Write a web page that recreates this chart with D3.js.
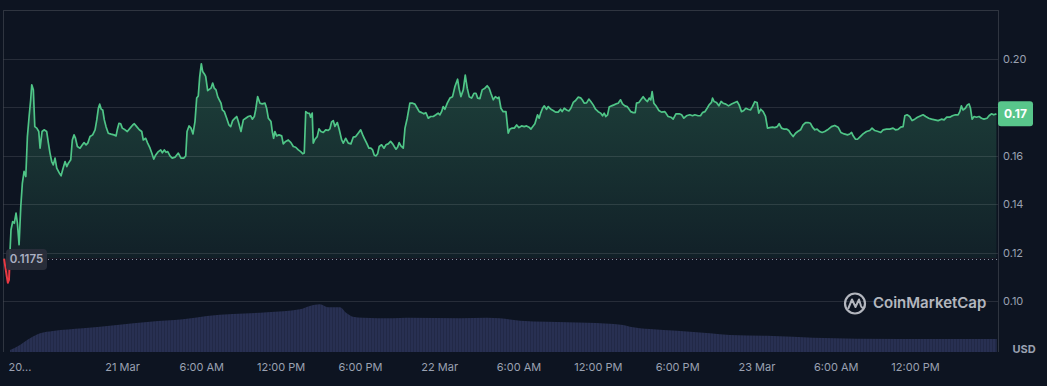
<!DOCTYPE html>
<html>
<head>
<meta charset="utf-8">
<script src="https://cdn.jsdelivr.net/npm/d3@7"></script>
<style>
  html, body { margin: 0; padding: 0; background: #0d1421; }
  svg { display: block; font-family: Inter, "Noto Sans", sans-serif; }
</style>
</head>
<body>
<div id="chart"></div>
<script>
const WIDTH = 1047;
const HEIGHT = 386;

// hours counted from 21 Mar 00:00, price in USD
const pricePoints = [
  [-8.93,0.1175],[-8.72,0.1101],[-8.64,0.1075],[-8.55,0.1087],[-8.47,0.1211],[-8.40,0.1294],[-8.27,0.1328],[-8.15,0.1321],[-8.02,0.1363],[-7.92,0.1323],
  [-7.79,0.1232],[-7.66,0.1390],[-7.54,0.1487],[-7.41,0.1535],[-7.28,0.1514],[-7.16,0.1679],[-7.03,0.1762],[-6.91,0.1831],[-6.83,0.1893],[-6.71,0.1872],
  [-6.60,0.1720],[-6.45,0.1714],[-6.30,0.1700],[-6.20,0.1631],[-6.05,0.1700],[-5.90,0.1707],[-5.70,0.1700],[-5.57,0.1652],[-5.45,0.1611],[-5.32,0.1576],
  [-5.20,0.1562],[-5.07,0.1590],[-4.94,0.1549],[-4.74,0.1528],[-4.61,0.1517],[-4.49,0.1542],[-4.31,0.1576],[-4.18,0.1555],[-4.06,0.1569],[-3.88,0.1583],
  [-3.76,0.1665],[-3.63,0.1686],[-3.53,0.1674],[-3.38,0.1638],[-3.18,0.1631],[-3.00,0.1645],[-2.87,0.1654],[-2.72,0.1645],[-2.59,0.1652],[-2.42,0.1679],
  [-2.22,0.1686],[-2.04,0.1707],[-1.91,0.1748],[-1.79,0.1796],[-1.69,0.1813],[-1.57,0.1792],[-1.46,0.1789],[-1.34,0.1748],[-1.21,0.1720],[-1.04,0.1693],
  [-0.83,0.1689],[-0.61,0.1686],[-0.45,0.1682],[-0.36,0.1707],[-0.23,0.1734],[-0.10,0.1732],[0.02,0.1714],[0.23,0.1707],[0.40,0.1700],[0.61,0.1714],
  [0.81,0.1727],[0.93,0.1732],[1.11,0.1720],[1.31,0.1707],[1.49,0.1700],[1.61,0.1665],[1.79,0.1672],[1.94,0.1652],[2.12,0.1631],[2.25,0.1611],
  [2.40,0.1586],[2.55,0.1603],[2.75,0.1617],[2.93,0.1624],[3.05,0.1612],[3.20,0.1624],[3.33,0.1614],[3.46,0.1617],[3.63,0.1599],[3.80,0.1590],
  [4.01,0.1594],[4.26,0.1611],[4.46,0.1590],[4.67,0.1590],[4.82,0.1599],[4.92,0.1700],[5.07,0.1723],[5.22,0.1714],[5.37,0.1690],[5.52,0.1741],
  [5.65,0.1838],[5.77,0.1847],[5.88,0.1927],[6.00,0.1980],[6.10,0.1948],[6.23,0.1938],[6.33,0.1928],[6.48,0.1869],[6.63,0.1875],[6.73,0.1879],
  [6.86,0.1900],[6.98,0.1879],[7.11,0.1872],[7.24,0.1844],[7.36,0.1831],[7.49,0.1817],[7.59,0.1789],[7.74,0.1782],[7.92,0.1755],[8.09,0.1727],
  [8.22,0.1720],[8.37,0.1745],[8.55,0.1755],[8.68,0.1762],[8.80,0.1741],[9.00,0.1700],[9.18,0.1748],[9.36,0.1755],[9.55,0.1762],[9.73,0.1765],
  [9.86,0.1751],[10.01,0.1762],[10.11,0.1789],[10.26,0.1844],[10.44,0.1817],[10.61,0.1814],[10.82,0.1817],[10.94,0.1796],[11.07,0.1755],[11.27,0.1741],
  [11.37,0.1700],[11.47,0.1672],[11.57,0.1700],[11.70,0.1682],[11.88,0.1686],[12.08,0.1682],[12.20,0.1649],[12.38,0.1659],[12.58,0.1665],[12.78,0.1654],
  [12.96,0.1638],[13.14,0.1635],[13.34,0.1624],[13.52,0.1617],[13.67,0.1608],[13.79,0.1611],[13.90,0.1782],[14.05,0.1776],[14.18,0.1775],[14.27,0.1759],
  [14.39,0.1776],[14.47,0.1652],[14.60,0.1668],[14.77,0.1679],[14.90,0.1711],[15.05,0.1700],[15.23,0.1696],[15.41,0.1707],[15.60,0.1705],[15.73,0.1711],
  [15.86,0.1740],[15.98,0.1745],[16.11,0.1721],[16.29,0.1737],[16.44,0.1707],[16.62,0.1665],[16.74,0.1652],[16.92,0.1672],[17.12,0.1652],[17.32,0.1649],
  [17.50,0.1677],[17.68,0.1679],[17.87,0.1693],[18.06,0.1707],[18.21,0.1686],[18.33,0.1672],[18.51,0.1652],[18.68,0.1631],[18.83,0.1631],[18.96,0.1624],
  [19.08,0.1603],[19.21,0.1599],[19.34,0.1608],[19.46,0.1638],[19.64,0.1645],[19.82,0.1631],[19.97,0.1645],[20.14,0.1649],[20.32,0.1659],[20.48,0.1649],
  [20.60,0.1638],[20.73,0.1627],[20.85,0.1635],[20.97,0.1654],[21.10,0.1641],[21.28,0.1631],[21.41,0.1714],[21.58,0.1755],[21.78,0.1817],[21.99,0.1817],
  [22.16,0.1813],[22.34,0.1796],[22.49,0.1782],[22.67,0.1778],[22.84,0.1773],[22.99,0.1778],[23.17,0.1755],[23.35,0.1762],[23.55,0.1762],[23.75,0.1769],
  [23.92,0.1776],[24.05,0.1769],[24.18,0.1782],[24.30,0.1803],[24.43,0.1792],[24.61,0.1817],[24.81,0.1838],[25.01,0.1844],[25.19,0.1886],[25.39,0.1916],
  [25.51,0.1875],[25.64,0.1844],[25.82,0.1872],[25.97,0.1933],[26.12,0.1879],[26.27,0.1844],[26.45,0.1838],[26.63,0.1858],[26.78,0.1858],[26.91,0.1838],
  [27.08,0.1836],[27.25,0.1872],[27.46,0.1879],[27.63,0.1889],[27.78,0.1879],[27.91,0.1858],[28.09,0.1831],[28.25,0.1844],[28.42,0.1837],[28.52,0.1842],
  [28.67,0.1796],[28.84,0.1782],[29.05,0.1782],[29.22,0.1693],[29.35,0.1710],[29.52,0.1714],[29.68,0.1714],[29.86,0.1727],[30.03,0.1716],[30.23,0.1723],
  [30.43,0.1720],[30.61,0.1723],[30.79,0.1718],[30.94,0.1710],[31.11,0.1723],[31.24,0.1732],[31.44,0.1769],[31.56,0.1755],[31.69,0.1778],[31.82,0.1796],
  [31.94,0.1806],[32.12,0.1792],[32.25,0.1803],[32.45,0.1792],[32.62,0.1787],[32.80,0.1780],[33.00,0.1780],[33.18,0.1792],[33.30,0.1782],[33.46,0.1796],
  [33.64,0.1789],[33.81,0.1785],[33.96,0.1796],[34.14,0.1820],[34.32,0.1828],[34.51,0.1842],[34.70,0.1839],[34.82,0.1831],[34.97,0.1817],[35.15,0.1818],
  [35.32,0.1834],[35.47,0.1824],[35.65,0.1810],[35.83,0.1792],[36.03,0.1782],[36.21,0.1776],[36.36,0.1765],[36.48,0.1776],[36.61,0.1762],[36.74,0.1769],
  [36.86,0.1801],[37.04,0.1806],[37.22,0.1810],[37.37,0.1814],[37.54,0.1817],[37.72,0.1831],[37.87,0.1814],[38.05,0.1806],[38.22,0.1803],[38.37,0.1792],
  [38.50,0.1782],[38.68,0.1778],[38.83,0.1778],[38.93,0.1817],[39.11,0.1820],[39.26,0.1831],[39.43,0.1844],[39.61,0.1831],[39.76,0.1824],[39.89,0.1838],
  [40.01,0.1831],[40.11,0.1865],[40.24,0.1817],[40.44,0.1803],[40.62,0.1787],[40.82,0.1780],[41.07,0.1782],[41.15,0.1776],[41.32,0.1762],[41.53,0.1759],
  [41.70,0.1751],[41.91,0.1773],[42.16,0.1773],[42.34,0.1769],[42.51,0.1755],[42.71,0.1765],[42.96,0.1769],[43.17,0.1765],[43.34,0.1769],[43.59,0.1765],
  [43.77,0.1765],[43.92,0.1778],[44.10,0.1782],[44.27,0.1796],[44.42,0.1810],[44.60,0.1820],[44.68,0.1838],[44.80,0.1824],[44.98,0.1820],[45.16,0.1806],
  [45.33,0.1824],[45.48,0.1817],[45.69,0.1813],[45.89,0.1806],[46.12,0.1814],[46.37,0.1820],[46.54,0.1824],[46.69,0.1810],[46.87,0.1782],[47.05,0.1787],
  [47.20,0.1796],[47.37,0.1792],[47.55,0.1789],[47.70,0.1803],[47.88,0.1823],[48.05,0.1820],[48.18,0.1776],[48.33,0.1792],[48.51,0.1782],[48.69,0.1762],
  [48.84,0.1714],[49.01,0.1716],[49.22,0.1718],[49.39,0.1716],[49.57,0.1720],[49.72,0.1732],[49.90,0.1714],[50.07,0.1710],[50.28,0.1710],[50.45,0.1704],
  [50.58,0.1693],[50.78,0.1679],[50.96,0.1693],[51.13,0.1700],[51.34,0.1707],[51.53,0.1727],[51.72,0.1737],[51.91,0.1737],[52.09,0.1734],[52.24,0.1718],
  [52.42,0.1707],[52.59,0.1710],[52.79,0.1700],[52.97,0.1696],[53.17,0.1700],[53.38,0.1707],[53.68,0.1720],[53.93,0.1725],[54.18,0.1718],[54.39,0.1696],
  [54.64,0.1690],[54.89,0.1686],[55.07,0.1690],[55.20,0.1696],[55.32,0.1682],[55.50,0.1668],[55.65,0.1668],[55.82,0.1677],[56.07,0.1690],[56.33,0.1700],
  [56.58,0.1704],[56.75,0.1714],[56.96,0.1704],[57.21,0.1700],[57.41,0.1696],[57.59,0.1707],[57.84,0.1710],[58.09,0.1710],[58.34,0.1714],[58.52,0.1707],
  [58.72,0.1709],[58.92,0.1718],[59.10,0.1720],[59.23,0.1765],[59.40,0.1769],[59.60,0.1762],[59.78,0.1745],[59.98,0.1751],[60.19,0.1759],[60.44,0.1765],
  [60.61,0.1769],[60.81,0.1762],[61.04,0.1755],[61.25,0.1751],[61.50,0.1748],[61.75,0.1745],[62.00,0.1751],[62.20,0.1748],[62.40,0.1759],[62.63,0.1759],
  [62.83,0.1765],[63.06,0.1769],[63.26,0.1769],[63.39,0.1782],[63.51,0.1806],[63.63,0.1789],[63.81,0.1796],[63.96,0.1810],[64.09,0.1814],[64.20,0.1796],
  [64.32,0.1751],[64.47,0.1762],[64.65,0.1759],[64.85,0.1762],[65.03,0.1755],[65.22,0.1751],[65.45,0.1755],[65.60,0.1765],[65.78,0.1773],[65.96,0.1769],
  [66.16,0.1773]
];

// volume, relative units, same hour offsets
const volumePoints = [
  [-8.47,2],[-7.72,7],[-6.96,13.7],[-6.20,18.7],[-5.22,21],[-2.95,23.7],[-0.38,27],[2.12,30.3],[4.61,32.7],[6.43,36],
  [8.40,38],[10.97,39.7],[13.46,42.7],[14.22,46],[14.98,47.7],[15.58,44.7],[16.49,44.7],[17.00,38.7],[17.47,35.3],[18.23,34.3],
  [20.50,33.7],[21.56,34.3],[25.57,33.7],[27.61,34.3],[28.59,33.7],[30.11,31.3],[32.15,30.3],[35.17,29.3],[37.90,27],[38.43,25.3],
  [39.94,23],[41.98,21.3],[44.48,18.7],[45.99,17],[49.24,16],[52.27,14.3],[58.85,13],[66.18,13]
];

const yTickValues = [0.10, 0.12, 0.14, 0.16, 0.18, 0.20];
const xTickHours = [-8.93, 0, 6, 12, 18, 24, 30, 36, 42, 48, 54, 60];
const openPrice = 0.1175;
const startHour = -8.93;
const endHour = 66.28;

const GREEN = '#4fc587';
const RED = '#ea3943';

const base = new Date(2024, 2, 21, 0, 0, 0);
function hourToDate(h) {
  return new Date(base.getTime() + h * 3600 * 1000);
}

const svg = d3.select('#chart')
  .append('svg')
  .attr('width', WIDTH)
  .attr('height', HEIGHT);

svg.append('rect').attr('width', WIDTH).attr('height', HEIGHT).attr('fill', '#0d1421');

const xScale = d3.scaleTime()
  .domain([hourToDate(startHour), hourToDate(endHour)])
  .range([4, 998]);

const yScale = d3.scaleLinear()
  .domain([0.0789, 0.2202])
  .range([352, 10]);

const volScale = d3.scaleLinear()
  .domain([0, 50])
  .range([352, 302]);

const yBase = yScale(openPrice);

const defs = svg.append('defs');

const grad = defs.append('linearGradient')
  .attr('id', 'greenFill')
  .attr('x1', 0).attr('x2', 0)
  .attr('gradientUnits', 'userSpaceOnUse')
  .attr('y1', yScale(0.20)).attr('y2', yBase);
grad.append('stop').attr('offset', 0).attr('stop-color', GREEN).attr('stop-opacity', 0.26);
grad.append('stop').attr('offset', 1).attr('stop-color', GREEN).attr('stop-opacity', 0.07);

defs.append('clipPath').attr('id', 'above')
  .append('rect').attr('x', 0).attr('y', 0).attr('width', WIDTH).attr('height', yBase);
defs.append('clipPath').attr('id', 'below')
  .append('rect').attr('x', 0).attr('y', yBase).attr('width', WIDTH).attr('height', HEIGHT - yBase);

// striped pattern for the volume bars
const pat = defs.append('pattern')
  .attr('id', 'volBars')
  .attr('patternUnits', 'userSpaceOnUse')
  .attr('width', 3).attr('height', 10);
pat.append('rect').attr('width', 3).attr('height', 10).attr('fill', '#283052');
pat.append('rect').attr('x', 2.4).attr('width', 0.6).attr('height', 10).attr('fill', '#1d2340');

// volume
const volArea = d3.area()
  .x(d => xScale(hourToDate(d[0])))
  .y0(352)
  .y1(d => volScale(d[1]))
  .curve(d3.curveMonotoneX);

svg.append('path')
  .datum(volumePoints)
  .attr('d', volArea)
  .attr('fill', 'url(#volBars)');

// price area
const priceArea = d3.area()
  .x(d => xScale(hourToDate(d[0])))
  .y0(yBase)
  .y1(d => yScale(d[1]));

svg.append('path')
  .datum(pricePoints)
  .attr('d', priceArea)
  .attr('fill', 'url(#greenFill)')
  .attr('clip-path', 'url(#above)');

svg.append('path')
  .datum(pricePoints)
  .attr('d', priceArea)
  .attr('fill', RED)
  .attr('fill-opacity', 0.2)
  .attr('clip-path', 'url(#below)');

// grid lines
svg.append('g')
  .selectAll('line')
  .data(yTickValues)
  .enter()
  .append('line')
  .attr('x1', 3.5)
  .attr('x2', 998)
  .attr('y1', d => Math.round(yScale(d)) + 0.5)
  .attr('y2', d => Math.round(yScale(d)) + 0.5)
  .attr('stroke', 'rgba(255,255,255,0.11)');

// frame
svg.append('path')
  .attr('d', 'M3.5,352 V10.5 H998.5 V352')
  .attr('fill', 'none')
  .attr('stroke', 'rgba(255,255,255,0.14)');

// dotted line at the opening price
svg.append('line')
  .attr('x1', 48)
  .attr('x2', 998)
  .attr('y1', Math.round(yBase) + 0.5)
  .attr('y2', Math.round(yBase) + 0.5)
  .attr('stroke', '#8a91a3')
  .attr('stroke-dasharray', '1,3');

// price line
const priceLine = d3.line()
  .x(d => xScale(hourToDate(d[0])))
  .y(d => yScale(d[1]));

svg.append('path')
  .datum(pricePoints)
  .attr('d', priceLine)
  .attr('fill', 'none')
  .attr('stroke', GREEN)
  .attr('stroke-width', 1.7)
  .attr('stroke-linejoin', 'round')
  .attr('clip-path', 'url(#above)');

svg.append('path')
  .datum(pricePoints)
  .attr('d', priceLine)
  .attr('fill', 'none')
  .attr('stroke', RED)
  .attr('stroke-width', 1.9)
  .attr('stroke-linejoin', 'round')
  .attr('clip-path', 'url(#below)');

// opening price label
svg.append('rect')
  .attr('x', 6).attr('y', yBase - 9.5)
  .attr('width', 41).attr('height', 21).attr('rx', 4)
  .attr('fill', '#2a2e3b').attr('fill-opacity', 0.95);
svg.append('text')
  .attr('x', 26.5).attr('y', yBase + 1)
  .attr('text-anchor', 'middle')
  .attr('dominant-baseline', 'middle')
  .attr('font-size', 11.5)
  .attr('font-weight', 600)
  .attr('fill', '#aab0c2')
  .text(d3.format('.4f')(openPrice));

// last price (shown truncated to two decimals)
const lastPrice = pricePoints[pricePoints.length - 1][1];
const yLast = yScale(lastPrice);

// y axis
const yAxis = d3.axisRight(yScale)
  .tickValues(yTickValues)
  .tickSize(0)
  .tickPadding(5)
  .tickFormat(d3.format('.2f'));
const gy = svg.append('g')
  .attr('transform', 'translate(998, 0)')
  .call(yAxis);
gy.select('.domain').remove();
gy.selectAll('text')
  .attr('font-family', 'Inter, sans-serif')
  .attr('font-size', 11)
  .attr('fill', '#9aa1b1');
// the last price tag covers the tick it sits on
gy.selectAll('.tick').filter(d => Math.abs(yScale(d) - yLast) < 16).remove();

svg.append('text')
  .attr('x', 1024).attr('y', 350)
  .attr('text-anchor', 'middle')
  .attr('dominant-baseline', 'middle')
  .attr('font-size', 11)
  .attr('font-weight', 700)
  .attr('fill', '#9aa1b1')
  .text('USD');

svg.append('rect')
  .attr('x', 998).attr('y', yLast - 12.5)
  .attr('width', 35).attr('height', 25).attr('rx', 3)
  .attr('fill', '#58c68b');
svg.append('text')
  .attr('x', 1015.5).attr('y', yLast + 0.5)
  .attr('text-anchor', 'middle')
  .attr('dominant-baseline', 'middle')
  .attr('font-size', 12)
  .attr('font-weight', 700)
  .attr('fill', '#ffffff')
  .text((Math.floor(lastPrice * 100) / 100).toFixed(2));

// x axis
const fmtDay = d3.timeFormat('%-d %b');
const fmtHour = d3.timeFormat('%-I:%M %p');
const xAxis = d3.axisBottom(xScale)
  .tickValues(xTickHours.map(hourToDate))
  .tickSize(0)
  .tickPadding(11)
  .tickFormat((d, i) => {
    if (i === 0) return '20...';
    return d.getHours() === 0 ? fmtDay(d) : fmtHour(d);
  });
const gx = svg.append('g')
  .attr('transform', 'translate(0, 352)')
  .call(xAxis);
gx.select('.domain').remove();
gx.selectAll('text')
  .attr('font-family', 'Inter, sans-serif')
  .attr('font-size', 11)
  .attr('fill', '#9aa1b1');
gx.selectAll('text').filter((d, i) => i === 0)
  .attr('text-anchor', 'start')
  .attr('dx', 4);

// watermark
const wm = svg.append('g').attr('opacity', 0.85);
wm.append('circle')
  .attr('cx', 855).attr('cy', 303.5).attr('r', 10)
  .attr('fill', 'none')
  .attr('stroke', '#d0d3da')
  .attr('stroke-width', 2.2);
wm.append('path')
  .attr('d', 'M848.5,308 L852,299.5 L855.5,307 L859,299.5 L861,306 Q862,309 864.5,307')
  .attr('fill', 'none')
  .attr('stroke', '#d0d3da')
  .attr('stroke-width', 2)
  .attr('stroke-linejoin', 'round')
  .attr('stroke-linecap', 'round');
wm.append('text')
  .attr('x', 873).attr('y', 304)
  .attr('dominant-baseline', 'middle')
  .attr('font-size', 15)
  .attr('font-weight', 600)
  .attr('fill', '#d0d3da')
  .text('CoinMarketCap');
</script>
</body>
</html>
